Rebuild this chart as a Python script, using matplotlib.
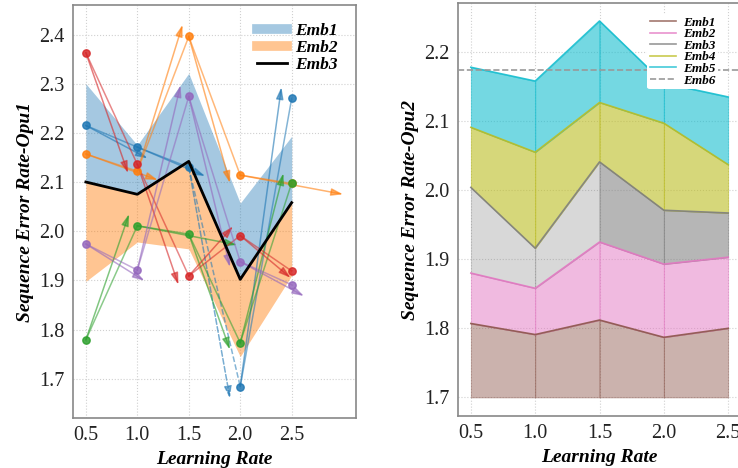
import matplotlib
matplotlib.use("Agg")
import matplotlib.pyplot as plt
from matplotlib.lines import Line2D
import numpy as np

learning_rates = [0.5, 1.0, 1.5, 2.0, 2.5]

# left panel: band edges and mean curve
emb1_upper = [2.300, 2.175, 2.321, 2.057, 2.193]
emb2_lower = [1.898, 1.978, 1.964, 1.745, 1.910]
emb3_mean = [2.100, 2.075, 2.142, 1.902, 2.058]

# left panel: individual runs
runs_blue = [2.215, 2.171, 2.130, 1.684, 2.270]
runs_orange = [2.157, 2.122, 2.396, 2.114, 2.097]
runs_green = [1.779, 2.011, 1.994, 1.773, 2.098]
runs_red = [2.363, 2.136, 1.909, 1.991, 1.919]
runs_purple = [1.974, 1.921, 2.274, 1.938, 1.891]

# arrow tips (lr, error) for the arrows leaving the first four points of each run
tips_blue = [(1.10, 2.148), (1.66, 2.112), (1.90, 1.660), (2.40, 2.293)]
tips_orange = [(1.20, 2.104), (1.44, 2.420), (1.90, 2.098), (3.00, 2.075)]
tips_green = [(0.92, 2.035), (1.97, 1.972), (1.90, 1.759), (2.42, 2.118)]
tips_red = [(0.91, 2.118), (1.40, 1.891), (1.93, 2.010), (2.49, 1.905)]
tips_purple = [(1.07, 1.899), (1.42, 2.297), (1.90, 1.927), (2.62, 1.868)]

# right panel: cumulative layer tops
stack_base = 1.7
emb1_top = [1.807, 1.791, 1.812, 1.787, 1.800]
emb2_top = [1.880, 1.858, 1.925, 1.893, 1.903]
emb3_top = [2.004, 1.916, 2.041, 1.971, 1.967]
emb4_top = [2.091, 2.055, 2.127, 2.097, 2.037]
emb5_top = [2.178, 2.158, 2.245, 2.155, 2.135]
emb6_level = 2.174

plt.rcParams["font.family"] = ["Liberation Serif", "DejaVu Serif"]
label_font = dict(fontsize=14, fontweight="bold", fontstyle="italic")


def style_axes(ax):
    for spine in ax.spines.values():
        spine.set_color("#888888")
        spine.set_linewidth(1.2)
    ax.tick_params(labelsize=14.5, length=0, pad=6, colors="#222222")
    ax.grid(True, linestyle=":", color="#d0d0d0", linewidth=0.8)
    ax.set_axisbelow(True)


def draw_runs(ax):
    runs = [
        ("tab:blue", runs_blue, tips_blue, ["-", "-", "--", "-"]),
        ("tab:orange", runs_orange, tips_orange, ["-", "-", "-", "-"]),
        ("tab:green", runs_green, tips_green, ["-", "-", "-", "-"]),
        ("tab:red", runs_red, tips_red, ["-", "-", "-", "-"]),
        ("tab:purple", runs_purple, tips_purple, ["-", "-", "-", "-"]),
    ]
    for color, values, tips, styles in runs:
        for i in range(len(values) - 1):
            ax.plot(learning_rates[i:i + 2], values[i:i + 2], color=color, lw=1.1, alpha=0.55,
                    linestyle=styles[i], zorder=3)
            ax.annotate("", xy=tips[i], xytext=(learning_rates[i], values[i]),
                        arrowprops=dict(arrowstyle="-|>,head_length=0.7,head_width=0.22", color=color,
                                        lw=1.1, alpha=0.6, shrinkA=0, shrinkB=0, linestyle=styles[i]),
                        zorder=3)
        ax.scatter(learning_rates, values, s=28, color=color, alpha=0.85, zorder=4)


def draw_left(ax):
    ax.fill_between(learning_rates, emb3_mean, emb1_upper, color="tab:blue", alpha=0.4, lw=0, zorder=2)
    ax.fill_between(learning_rates, emb2_lower, emb3_mean, color="tab:orange", alpha=0.45, lw=0, zorder=2)
    ax.plot(learning_rates, emb3_mean, color="black", lw=2, zorder=5)
    draw_runs(ax)

    ax.set_xlim(0.375, 3.125)
    ax.set_ylim(1.62, 2.46)
    ax.set_xticks(learning_rates)
    ax.set_yticks(np.round(np.arange(1.7, 2.41, 0.1), 1))
    style_axes(ax)
    ax.set_xlabel("Learning Rate", **label_font)
    ax.set_ylabel("Sequence Error Rate-Opu1", **label_font)

    handles = [
        Line2D([0], [0], color="tab:blue", alpha=0.4, lw=7),
        Line2D([0], [0], color="tab:orange", alpha=0.45, lw=7),
        Line2D([0], [0], color="black", lw=2),
    ]
    ax.legend(handles, ["Emb1", "Emb2", "Emb3"], loc="upper left", bbox_to_anchor=(0.595, 0.995),
              frameon=False, prop=dict(family="Liberation Serif", size=12.5, weight="bold", style="italic"),
              handlelength=1.7, handletextpad=0.5, labelspacing=0.05)


def draw_right(ax):
    layers = [
        ("Emb1", "#8c564b", emb1_top, [0.45] * 4),
        ("Emb2", "#e377c2", emb2_top, [0.5] * 4),
        ("Emb3", "#7f7f7f", emb3_top, [0.3, 0.3, 0.57, 0.57]),
        ("Emb4", "#bcbd22", emb4_top, [0.6] * 4),
        ("Emb5", "#17becf", emb5_top, [0.6] * 4),
    ]
    lower = [stack_base] * len(learning_rates)
    handles = []
    for name, color, top, alphas in layers:
        # one polygon per interval, so the seams between them show up
        for i in range(len(learning_rates) - 1):
            ax.fill_between(learning_rates[i:i + 2], lower[i:i + 2], top[i:i + 2], facecolor=color,
                            edgecolor=color, alpha=alphas[i], lw=0.6, zorder=2)
        ax.plot(learning_rates, top, color=color, lw=1.2, alpha=0.9, zorder=3)
        handles.append(Line2D([0], [0], color=color, lw=1.2, alpha=0.8))
        lower = top
    ax.axhline(emb6_level, color="#999999", lw=1.2, linestyle="--", zorder=3)
    handles.append(Line2D([0], [0], color="#999999", lw=1.2, linestyle="--"))

    ax.set_xlim(0.4, 2.6)
    ax.set_ylim(1.673, 2.271)
    ax.set_xticks(learning_rates)
    ax.set_yticks(np.round(np.arange(1.7, 2.21, 0.1), 1))
    style_axes(ax)
    ax.set_xlabel("Learning Rate", **label_font)
    ax.set_ylabel("Sequence Error Rate-Opu2", **label_font)
    ax.legend(handles, ["Emb1", "Emb2", "Emb3", "Emb4", "Emb5", "Emb6"], loc="upper left",
              bbox_to_anchor=(0.645, 0.99), frameon=True, facecolor="white", edgecolor="none", framealpha=1,
              prop=dict(family="Liberation Serif", size=9.5, weight="bold", style="italic"),
              handlelength=2.0, handletextpad=0.5, labelspacing=-0.05, borderpad=0.2)


if __name__ == "__main__":
    fig = plt.figure(figsize=(7.38, 4.68), dpi=100)
    ax_left = fig.add_axes([0.0989, 0.1068, 0.3835, 0.8825])
    ax_right = fig.add_axes([0.6206, 0.111, 0.3835, 0.8825])
    draw_left(ax_left)
    draw_right(ax_right)
    fig.savefig("out.png", dpi=100)
    plt.close(fig)
